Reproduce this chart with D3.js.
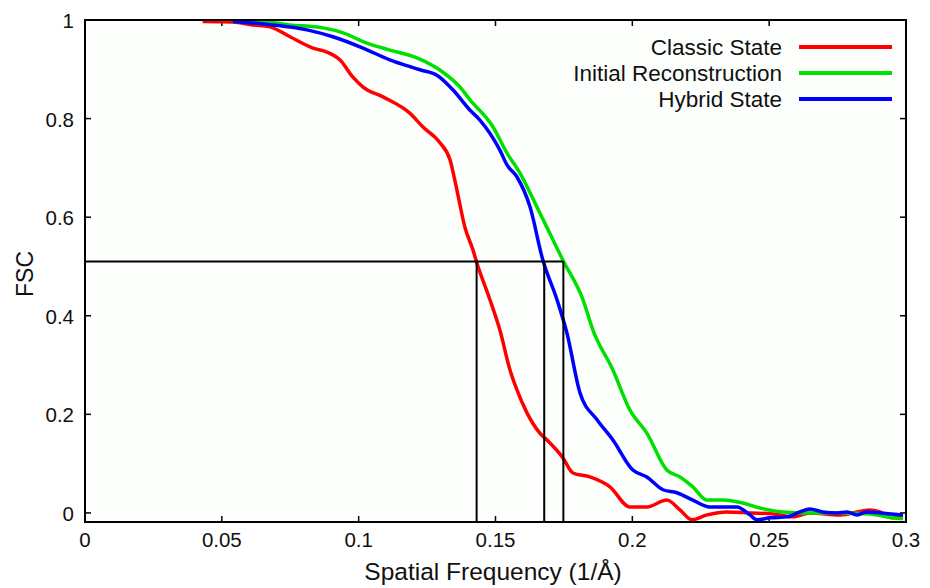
<!DOCTYPE html>
<html>
<head>
<meta charset="utf-8">
<script src="https://cdn.jsdelivr.net/npm/d3@7"></script>
<style>
  body { margin: 0; background: #fff; }
  svg { display: block; font-family: "Liberation Sans", Arial, sans-serif; }
</style>
</head>
<body>
<svg width="930" height="588"></svg>
<script>
// FSC curves, values
var classicX = [0.043,0.054,0.0614,0.0676,0.0749,0.0833,0.0884,0.0932,0.0979,0.1016,0.1089,0.1187,0.1235,0.1297,0.1334,0.1359,0.1388,0.1418,0.1432,0.148,0.1516,0.1553,0.1578,0.1615,0.1662,0.1688,0.1746,0.1783,0.1845,0.1918,0.1991,0.2053,0.2126,0.2174,0.2218,0.2273,0.2346,0.243,0.2514,0.2587,0.2649,0.2758,0.2868,0.2905,0.2952,0.2989];
var classicY = [0.997,0.996,0.990,0.986,0.966,0.943,0.935,0.919,0.884,0.864,0.844,0.811,0.783,0.751,0.716,0.655,0.580,0.533,0.507,0.432,0.371,0.290,0.250,0.203,0.162,0.148,0.112,0.081,0.073,0.053,0.012,0.012,0.026,0.006,-0.014,-0.004,0.002,0.000,-0.002,-0.008,0.000,-0.004,0.006,0.002,-0.010,-0.008];

var initialX = [0.054,0.0628,0.0749,0.087,0.0943,0.103,0.1114,0.1213,0.1308,0.137,0.1407,0.1491,0.1542,0.1589,0.1651,0.171,0.1746,0.182,0.1856,0.1929,0.1991,0.2053,0.2126,0.2174,0.2221,0.2273,0.2331,0.2404,0.2466,0.255,0.2649,0.2758,0.2868,0.2952,0.2989];
var initialY = [0.997,0.998,0.990,0.984,0.974,0.953,0.939,0.923,0.894,0.864,0.838,0.783,0.730,0.690,0.621,0.554,0.513,0.432,0.371,0.290,0.209,0.162,0.087,0.073,0.053,0.026,0.026,0.020,0.010,0.002,0.000,0.000,-0.002,-0.010,-0.012];

var hybridX = [0.054,0.0566,0.0687,0.0811,0.0906,0.1016,0.1114,0.1224,0.1286,0.1345,0.1407,0.1443,0.1516,0.1542,0.1578,0.1626,0.1673,0.1725,0.1761,0.1809,0.1871,0.1929,0.2002,0.2053,0.2112,0.2163,0.2221,0.2283,0.2382,0.243,0.2455,0.2503,0.2565,0.2612,0.2649,0.2696,0.2748,0.2784,0.2821,0.2857,0.2905,0.2989];
var hybridY = [0.997,0.996,0.990,0.980,0.966,0.943,0.919,0.899,0.888,0.858,0.817,0.797,0.736,0.706,0.682,0.621,0.513,0.432,0.365,0.243,0.189,0.148,0.087,0.073,0.047,0.041,0.026,0.012,0.012,-0.004,-0.014,-0.010,-0.008,0.002,0.008,0.002,0.000,0.002,-0.004,0.002,0.000,-0.004];

var seriesNames = ["Classic State", "Initial Reconstruction", "Hybrid State"];
var seriesColors = ["#ff0000", "#00e000", "#0000ff"];

// resolution cut-offs at FSC threshold
var threshold = 0.51;
var cutoffs = [0.1431, 0.1678, 0.1748];

var xTicks = [0, 0.05, 0.1, 0.15, 0.2, 0.25, 0.3];
var yTicks = [0, 0.2, 0.4, 0.6, 0.8, 1];

var svg = d3.select("svg");
var plotL = 85, plotR = 906, plotT = 20, plotB = 522;

var x = d3.scaleLinear().domain([0, 0.3]).range([plotL, plotR]);
var y = d3.scaleLinear().domain([-0.0184, 1]).range([plotB, plotT]);

svg.append("rect")
  .attr("x", plotL).attr("y", plotT)
  .attr("width", plotR - plotL).attr("height", plotB - plotT)
  .attr("fill", "#fdfffd");

// ticks (inward, on all four sides)
var tickLen = 6;
var g = svg.append("g").attr("stroke", "#000").attr("stroke-width", 1.5);
xTicks.forEach(function (t) {
  g.append("line").attr("x1", x(t)).attr("x2", x(t)).attr("y1", plotB).attr("y2", plotB - tickLen);
  g.append("line").attr("x1", x(t)).attr("x2", x(t)).attr("y1", plotT).attr("y2", plotT + tickLen);
});
yTicks.forEach(function (t) {
  g.append("line").attr("x1", plotL).attr("x2", plotL + tickLen).attr("y1", y(t)).attr("y2", y(t));
  g.append("line").attr("x1", plotR).attr("x2", plotR - tickLen).attr("y1", y(t)).attr("y2", y(t));
});

svg.append("g").selectAll("text").data(xTicks).enter().append("text")
  .attr("x", function (d) { return x(d); })
  .attr("y", 547)
  .attr("text-anchor", "middle")
  .attr("font-size", 20.5)
  .attr("fill", "#111")
  .text(function (d) { return d3.format("")(d); });

svg.append("g").selectAll("text").data(yTicks).enter().append("text")
  .attr("x", 74)
  .attr("y", function (d) { return y(d) + 8; })
  .attr("text-anchor", "end")
  .attr("font-size", 20.5)
  .attr("fill", "#111")
  .text(function (d) { return d3.format("")(d); });

svg.append("text")
  .attr("x", 493).attr("y", 580)
  .attr("text-anchor", "middle")
  .attr("font-size", 24.5)
  .attr("fill", "#111")
  .text("Spatial Frequency (1/Å)");

svg.append("text")
  .attr("transform", "translate(33,274) rotate(-90)")
  .attr("text-anchor", "middle")
  .attr("font-size", 23)
  .attr("fill", "#111")
  .text("FSC");

// curves
var line = d3.line()
  .x(function (d) { return x(d[0]); })
  .y(function (d) { return y(d[1]); })
  .curve(d3.curveMonotoneX);

var series = [
  d3.zip(classicX, classicY),
  d3.zip(initialX, initialY),
  d3.zip(hybridX, hybridY)
];

svg.append("g").selectAll("path").data(series).enter().append("path")
  .attr("d", line)
  .attr("fill", "none")
  .attr("stroke", function (d, i) { return seriesColors[i]; })
  .attr("stroke-width", 3.5)
  .attr("stroke-linejoin", "round");

// threshold guide lines
var guide = svg.append("g").attr("stroke", "#000").attr("stroke-width", 2).attr("fill", "none");
guide.append("line")
  .attr("x1", x(0)).attr("x2", x(d3.max(cutoffs)))
  .attr("y1", y(threshold)).attr("y2", y(threshold));
cutoffs.forEach(function (c) {
  guide.append("line")
    .attr("x1", x(c)).attr("x2", x(c))
    .attr("y1", y(threshold)).attr("y2", plotB);
});

// legend
var legend = svg.append("g").selectAll("g").data(seriesNames).enter().append("g")
  .attr("transform", function (d, i) { return "translate(0," + (47 + i * 26) + ")"; });
legend.append("text")
  .attr("x", 782).attr("y", 8)
  .attr("text-anchor", "end")
  .attr("font-size", 22.5)
  .attr("fill", "#111")
  .text(function (d) { return d; });
legend.append("line")
  .attr("x1", 799).attr("x2", 892)
  .attr("stroke", function (d, i) { return seriesColors[i]; })
  .attr("stroke-width", 4);

// frame
svg.append("rect")
  .attr("x", plotL).attr("y", plotT)
  .attr("width", plotR - plotL).attr("height", plotB - plotT)
  .attr("fill", "none")
  .attr("stroke", "#000")
  .attr("stroke-width", 2);
</script>
</body>
</html>
